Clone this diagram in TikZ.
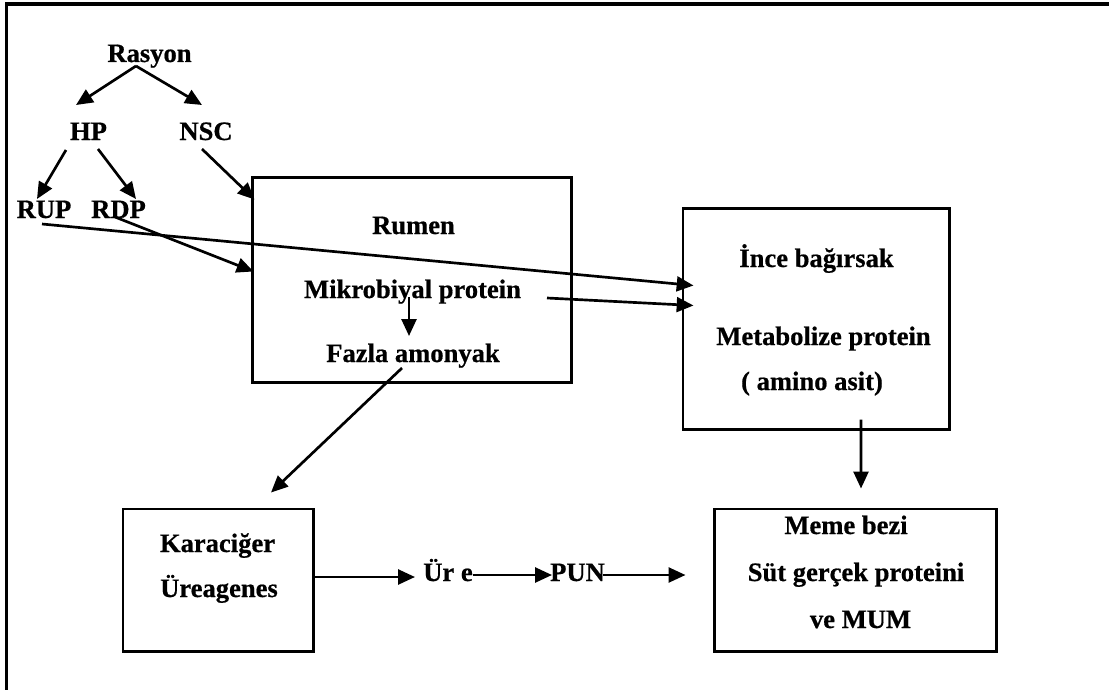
\documentclass[tikz,border=0pt]{standalone}
\usepackage{fontspec}
\setmainfont{Liberation Serif}[BoldFeatures={FakeBold=0.6}]
\usetikzlibrary{arrows.meta,calc}

\begin{document}
\begin{tikzpicture}[x=0.025cm, y=-0.025cm, line join=miter,
  lbl/.style={anchor=base, inner sep=0pt, font=\fontsize{18.9pt}{22pt}\selectfont\bfseries},
  box/.style={draw, line width=2.1pt, inner sep=0pt},
  arr/.style={line width=1.9pt, -{Triangle[length=0.42cm, width=0.37cm]}}]

\useasboundingbox (0,0) rectangle (1109,690);
\draw[line width=2.8pt] (1109,4) -- (6.5,4) -- (6.5,690);

% feed side
\node (rasyon) at (149.5,62) [lbl] {Rasyon};
\node (hp) at (88.5,140) [lbl] {HP};
\node (nsc) at (206,140) [lbl] {NSC};
\node (rup) at (44,218) [lbl] {RUP};
\node (rdp) at (118.5,218) [lbl] {RDP};

\node (rumen) at (412,280) [box, minimum width=7.95cm, minimum height=5.1cm] {};
\node (rumentxt) at (413.5,234) [lbl] {Rumen};
\node (mikro) at (412.5,298) [lbl] {Mikrobiyal protein};
\node (fazla) at (413,362) [lbl] {Fazla amonyak};

\node (ince) at (816,319) [box, minimum width=6.65cm, minimum height=5.5cm] {};
\node (incetxt) at (816.5,267) [lbl] {İnce bağırsak};
\node (metab) at (823.5,345) [lbl] {Metabolize protein};
\node (amino) at (812,390) [lbl] {( amino asit)};

\node (karaciger) at (218,580) [box, minimum width=4.75cm, minimum height=3.55cm] {};
\node (karatxt) at (217.5,552) [lbl] {Karaciğer};
\node (ureagenes) at (219,597) [lbl] {Üreagenes};

\node (ure) at (448,581) [lbl] {Ür e};
\node (pun) at (577.5,581) [lbl] {PUN};

\node (meme) at (855.5,580) [box, minimum width=7.025cm, minimum height=3.55cm] {};
\node (memetxt) at (846,534) [lbl] {Meme bezi};
\node (sut) at (856,581) [lbl] {Süt gerçek proteini};
\node (mum) at (860.5,628) [lbl] {ve MUM};

% arrows
\draw[arr] ($(rasyon.base)+(-13.5,4)$) -- ($(hp.base)+(-12.5,-35)$);
\draw[arr] ($(rasyon.base)+(-13.5,4)$) -- ($(nsc.base)+(-4,-35)$);
\draw[arr] ($(hp.base)+(-22.5,10)$) -- ($(rup.base)+(-7,-19)$);
\draw[arr] ($(hp.base)+(9.5,9)$) -- ($(rdp.base)+(17.5,-19)$);
\draw[arr] ($(nsc.base)+(-4,9)$) -- ($(rumen.north west)+(3,23)$);
\draw[arr] ($(rdp.base)+(-3.5,-1)$) -- ($(rumen.north west)+(2,95)$);
\draw[arr] ($(rup.base)+(-2,6)$) -- ($(ince.north west)+(12,78)$);
\draw[arr] ($(mikro.base)+(134.5,0)$) -- ($(ince.north west)+(12,98)$);
\draw[arr] ($(mikro.base)+(-3.5,-1)$) -- ($(fazla.base)+(-4,-26)$);
\draw[arr] ($(fazla.base)+(-11,6)$) -- ($(karaciger.north)+(53,-15)$);
\draw[arr] ($(ince.south)+(45,-11)$) -- ($(meme.north)+(5.5,-19)$);
\draw[arr] ($(karaciger.east)+(0,-3)$) -- ($(ure.base)+(-33,-4)$);
\draw[arr] ($(ure.base)+(25,-6)$) -- ($(pun.base)+(-25.5,-6)$);
\draw[arr] ($(pun.base)+(25.5,-6)$) -- ($(meme.west)+(-28,-5)$);

\end{tikzpicture}
\end{document}
